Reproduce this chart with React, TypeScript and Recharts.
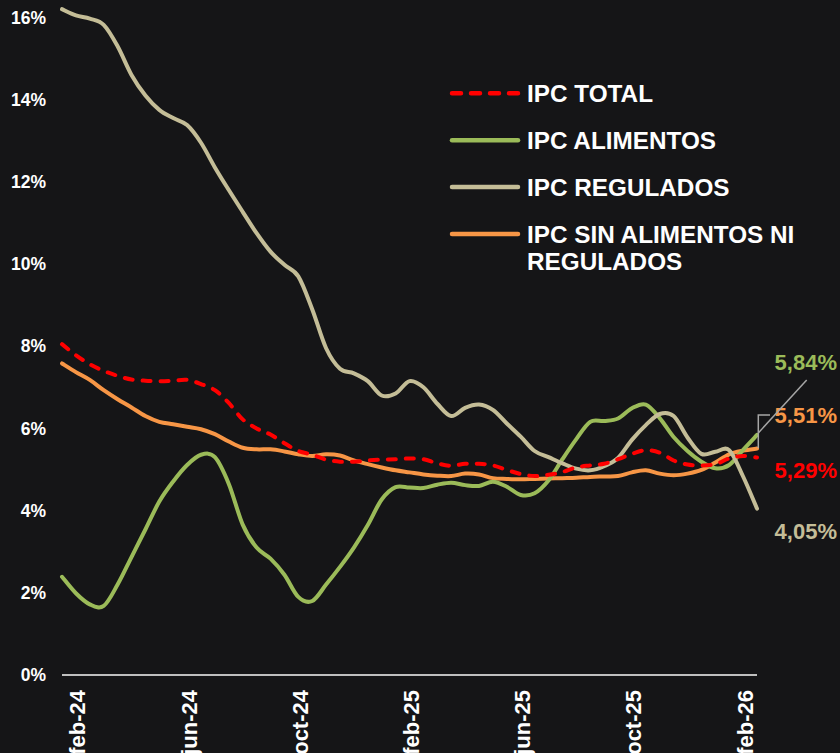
import React from "react";
import { LineChart, Line, XAxis, YAxis, Legend, LabelList } from "recharts";

// x position of each reading, in months from feb-24 (half-month steps)
const monthIndex = Array.from({ length: 51 }, (_, j) => j / 2 - 0.5);

const ipcTotal = [
  8.05, 7.78, 7.56, 7.4, 7.28, 7.19, 7.16, 7.15, 7.16, 7.18,
  7.08, 6.93, 6.62, 6.22, 6.0, 5.85, 5.64, 5.45, 5.36, 5.24,
  5.19, 5.19, 5.22, 5.24, 5.25, 5.27, 5.25, 5.15, 5.09, 5.14,
  5.14, 5.1, 4.99, 4.89, 4.84, 4.87, 4.94, 5.05, 5.1, 5.14,
  5.25, 5.38, 5.47, 5.41, 5.22, 5.12, 5.1, 5.13, 5.27, 5.33,
  5.29,
];

const ipcAlimentos = [
  2.39, 1.99, 1.72, 1.68, 2.2, 2.87, 3.54, 4.22, 4.71, 5.11,
  5.36, 5.3, 4.65, 3.66, 3.1, 2.83, 2.44, 1.9, 1.8, 2.2,
  2.63, 3.1, 3.65, 4.27, 4.57, 4.56, 4.55, 4.63, 4.68, 4.62,
  4.6, 4.7, 4.58, 4.38, 4.42, 4.73, 5.25, 5.74, 6.16, 6.18,
  6.24, 6.49, 6.58, 6.25, 5.79, 5.45, 5.19, 5.03, 5.11, 5.48,
  5.84,
];

const ipcRegulados = [
  16.2, 16.05, 15.97, 15.82, 15.3, 14.6, 14.1, 13.75, 13.55, 13.38,
  12.95, 12.35, 11.8, 11.27, 10.75, 10.3, 9.98, 9.7, 8.9, 7.95,
  7.45, 7.34, 7.15, 6.8, 6.85, 7.15, 7.0, 6.6, 6.3, 6.5,
  6.58, 6.45, 6.12, 5.8, 5.45, 5.3, 5.15, 5.02, 4.98, 5.08,
  5.28, 5.72, 6.08, 6.35, 6.3, 5.78, 5.38, 5.43, 5.47, 4.83,
  4.05,
];

const ipcSinAlimReg = [
  7.58, 7.37, 7.18, 6.93, 6.71, 6.51, 6.3, 6.16, 6.1, 6.04,
  5.98, 5.86, 5.68, 5.53, 5.49, 5.49, 5.44, 5.37, 5.33, 5.37,
  5.34, 5.22, 5.13, 5.05, 4.98, 4.93, 4.88, 4.85, 4.84, 4.9,
  4.88, 4.79, 4.77, 4.76, 4.77, 4.78, 4.79, 4.8, 4.82, 4.83,
  4.84, 4.93, 4.98, 4.9, 4.86, 4.9, 4.99, 5.17, 5.37, 5.46,
  5.51,
];

const tickMonths = [0, 4, 8, 12, 16, 20, 24];
const tickLabels = ["feb-24", "jun-24", "oct-24", "feb-25", "jun-25", "oct-25", "feb-26"];
const yTicks = [0, 2, 4, 6, 8, 10, 12, 14, 16];

const FONT = '"Liberation Sans", Arial, Helvetica, sans-serif';
const BG = "#151517";
const LEADER = "#a6a6a6";

const data = monthIndex.map((t, i) => ({
  t,
  total: ipcTotal[i],
  alimentos: ipcAlimentos[i],
  regulados: ipcRegulados[i],
  sinar: ipcSinAlimReg[i],
}));

const N = monthIndex.length;

// Catmull-Rom style smoothing (like a spreadsheet "smoothed line")
const smoothCurve = (ctx: any) => {
  let pts: number[][] = [];
  return {
    areaStart() {},
    areaEnd() {},
    lineStart() {
      pts = [];
    },
    point(x: number, y: number) {
      pts.push([+x, +y]);
    },
    lineEnd() {
      if (!pts.length) return;
      ctx.moveTo(pts[0][0], pts[0][1]);
      for (let i = 0; i < pts.length - 1; i++) {
        const p0 = pts[i - 1] || pts[i];
        const p1 = pts[i];
        const p2 = pts[i + 1];
        const p3 = pts[i + 2] || p2;
        ctx.bezierCurveTo(
          p1[0] + (p2[0] - p0[0]) / 6,
          p1[1] + (p2[1] - p0[1]) / 6,
          p2[0] - (p3[0] - p1[0]) / 6,
          p2[1] - (p3[1] - p1[1]) / 6,
          p2[0],
          p2[1]
        );
      }
    },
  };
};

type S = {
  key: string;
  name: string[];
  color: string;
  dash?: string;
  labelDy: number;
  leader?: "diag" | "bracket";
};

const legendOrder: S[] = [
  { key: "total", name: ["IPC TOTAL"], color: "#ff0000", dash: "8 10", labelDy: 12.5 },
  { key: "alimentos", name: ["IPC ALIMENTOS"], color: "#9bbb59", labelDy: -72, leader: "diag" },
  { key: "regulados", name: ["IPC REGULADOS"], color: "#c4bd97", labelDy: 23 },
  { key: "sinar", name: ["IPC SIN ALIMENTOS NI", "REGULADOS"], color: "#f79646", labelDy: -33.5, leader: "bracket" },
];

// drawing order (bottom to top)
const drawOrder = ["sinar", "alimentos", "regulados", "total"];

const fmt = (v: number) => v.toFixed(2).replace(".", ",") + "%";

const renderEndLabel = (s: S) => (p: any) => {
  const { x, y, index, value } = p;
  if (index !== N - 1 || x == null || y == null) return null;
  let leader: React.ReactNode = null;
  if (s.leader === "diag") {
    leader = (
      <line x1={x + 1.3} y1={y - 2} x2={x + 49.7} y2={y - 55} stroke={LEADER} strokeWidth={1.5} />
    );
  } else if (s.leader === "bracket") {
    leader = (
      <polyline
        points={`${x + 1.3},${y - 0.5} ${x + 1.3},${y + s.labelDy} ${x + 13},${y + s.labelDy}`}
        fill="none"
        stroke={LEADER}
        strokeWidth={1.5}
      />
    );
  }
  return (
    <g>
      {leader}
      <text
        x={x + 80}
        y={y + s.labelDy}
        textAnchor="end"
        dominantBaseline="central"
        fill={s.color}
        fontFamily={FONT}
        fontWeight="bold"
        fontSize={22}
      >
        {fmt(Number(value))}
      </text>
    </g>
  );
};

const XTick = (p: any) => {
  const { x, y, payload } = p;
  const i = tickMonths.indexOf(payload.value);
  const label = i >= 0 ? tickLabels[i] : "";
  return (
    <text
      x={x + 2}
      y={y}
      transform={`rotate(-90, ${x + 2}, ${y})`}
      textAnchor="end"
      dominantBaseline="central"
      fill="#ffffff"
      fontFamily={FONT}
      fontWeight="bold"
      fontSize={22}
    >
      {label}
    </text>
  );
};

const LegendBox = () => (
  <svg width={400} height={210} style={{ display: "block" }}>
    {legendOrder.map((s, i) => {
      const cy = 23.3 + i * 46.9;
      return (
        <g key={s.key}>
          <line
            x1={14}
            y1={cy}
            x2={80}
            y2={cy}
            stroke={s.color}
            strokeWidth={4.5}
            strokeLinecap="round"
            strokeDasharray={s.dash ? "9 10" : undefined}
          />
          {s.name.map((ln, k) => (
            <text
              key={k}
              x={89}
              y={cy + k * 27.7}
              dominantBaseline="central"
              fill="#ffffff"
              fontFamily={FONT}
              fontWeight="bold"
              fontSize={24.3}
            >
              {ln}
            </text>
          ))}
        </g>
      );
    })}
  </svg>
);

export default function App() {
  return (
    <div
      style={{
        position: "fixed",
        left: 0,
        top: 0,
        width: 840,
        height: 753,
        background: BG,
        overflow: "hidden",
      }}
    >
      <LineChart
        width={840}
        height={753}
        data={data}
        margin={{ top: 9.2, right: 83, bottom: 0, left: 0 }}
      >
        <XAxis
          dataKey="t"
          type="number"
          domain={[-0.5, 24.5]}
          ticks={tickMonths}
          interval={0}
          height={78}
          tickLine={false}
          tickSize={0}
          tickMargin={15}
          axisLine={{ stroke: "#bfbfbf", strokeWidth: 2 }}
          tick={<XTick />}
        />
        <YAxis
          type="number"
          domain={[0, (dataMax: number) => Math.max(16, dataMax)]}
          ticks={yTicks}
          interval={0}
          width={62}
          axisLine={false}
          tickLine={false}
          tickSize={0}
          tickMargin={16}
          tickFormatter={(v: number) => `${v}%`}
          tick={{ fill: "#ffffff", fontFamily: FONT, fontWeight: "bold", fontSize: 17.5 }}
        />
        <Legend
          layout="horizontal"
          verticalAlign="middle"
          align="center"
          content={() => <LegendBox />}
          wrapperStyle={{ left: 438, top: 70, width: 400, height: 210 }}
        />
        {drawOrder.map((k) => {
          const s = legendOrder.find((q) => q.key === k)!;
          return (
            <Line
              key={k}
              dataKey={k}
              name={s.name.join(" ")}
              type={smoothCurve as any}
              stroke={s.color}
              strokeWidth={4}
              strokeDasharray={s.dash}
              strokeLinecap="round"
              dot={false}
              activeDot={false}
              isAnimationActive={false}
            >
              <LabelList dataKey={k} content={renderEndLabel(s)} />
            </Line>
          );
        })}
      </LineChart>
    </div>
  );
}
